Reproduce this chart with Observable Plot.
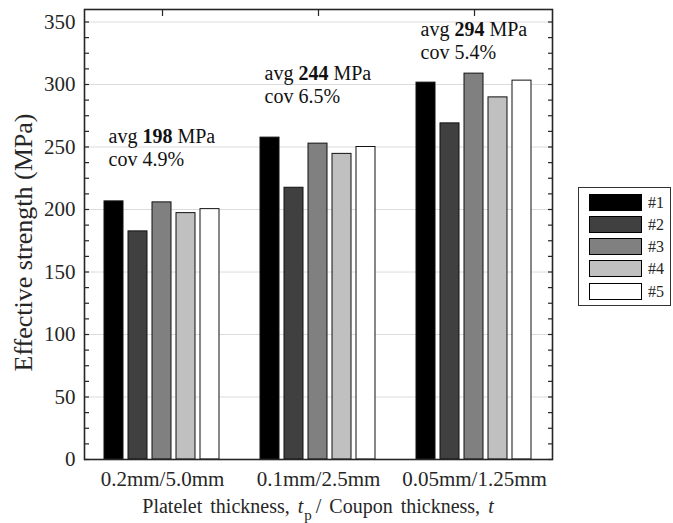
<!DOCTYPE html>
<html>
<head>
<meta charset="utf-8">
<script src="https://cdn.jsdelivr.net/npm/d3@7"></script>
<script src="https://cdn.jsdelivr.net/npm/@observablehq/plot@0.6"></script>
<style>
  body { margin: 0; background: #fff; }
  #wrap { position: relative; width: 673px; height: 523px; font-family: "Liberation Serif", "Times New Roman", serif; color: #262626; }
  #wrap svg { display: block; }
  .xtitle { position: absolute; left: 84px; width: 468px; top: 496px; text-align: center; font-size: 20px; line-height: 20px; word-spacing: 3px; white-space: nowrap; }
  .xtitle sub { font-size: 0.75em; vertical-align: -0.45em; line-height: 0; margin-left: 1px; margin-right: 4px; }
  .legend { position: absolute; left: 578px; top: 187px; width: 91px; height: 117px; border: 1px solid #333; background: #fff; box-sizing: content-box; }
  .legend .row { position: absolute; left: 10px; height: 17px; display: flex; align-items: center; }
  .legend .sw { width: 51px; height: 15px; border: 1px solid #000; }
  .legend .lab { margin-left: 6px; font-size: 16px; line-height: 17px; }
</style>
</head>
<body>
<div id="wrap"></div>
<script>
// Coupon configurations: platelet thickness / coupon thickness
const thicknessGroups = ["0.2mm/5.0mm", "0.1mm/2.5mm", "0.05mm/1.25mm"];
// Specimen labels within each configuration
const specimens = ["#1", "#2", "#3", "#4", "#5"];

// Effective strength (MPa) for each specimen, per configuration
const strength02mm = [206.5, 182.5, 205.7, 197.1, 200.3];
const strength01mm = [257.5, 217.4, 252.7, 244.5, 250.0];
const strength005mm = [301.5, 268.9, 308.7, 289.7, 303.1];

// Grey shades for the specimens
const specimenShades = ["#000000", "#404040", "#808080", "#c0c0c0", "#ffffff"];

// Strength level (MPa) at which each group's summary note sits
const noteLevels = [258, 309, 344];

// Axis ticks
const yMajorTicks = d3.range(0, 351, 50);
const yMinorTicks = d3.range(0, 351, 12.5);

const seriesByGroup = [strength02mm, strength01mm, strength005mm];

const rows = thicknessGroups.flatMap((group, gi) =>
  specimens.map((specimen, si) => ({group, specimen, strength: seriesByGroup[gi][si]}))
);

// Mean and coefficient of variation per configuration
const notes = thicknessGroups.map((group, gi) => {
  const values = seriesByGroup[gi];
  const avg = d3.mean(values);
  const cov = d3.deviation(values) / avg * 100;
  return {
    group,
    level: noteLevels[gi],
    avgText: `avg ${Math.round(avg)} MPa`,
    covText: `cov ${cov.toFixed(1)}%`
  };
});

const serif = "'Liberation Serif', 'Times New Roman', serif";
const ink = "#262626";

const chart = Plot.plot({
  width: 673,
  height: 523,
  marginTop: 9,
  marginRight: 121,
  marginBottom: 64,
  marginLeft: 84,
  style: {fontFamily: serif, fontSize: "20px", color: ink, background: "transparent", overflow: "visible"},
  fx: {domain: thicknessGroups, padding: 0, axis: null, label: null},
  x: {domain: specimens, paddingInner: 0.19, paddingOuter: 0.83, axis: null},
  y: {domain: [0, 360], axis: null},
  color: {domain: specimens, range: specimenShades},
  marks: [
    Plot.gridY(yMajorTicks, {stroke: "#dcdcdc", strokeOpacity: 1, strokeWidth: 1}),
    Plot.barY(rows, {fx: "group", x: "specimen", y: "strength", fill: "specimen", stroke: "#111", strokeWidth: 1}),
    Plot.text(notes, {fx: "group", y: "level", text: "avgText", frameAnchor: "middle", textAnchor: "start", dx: -54, fontSize: 20, fill: "#111"}),
    Plot.text(notes, {fx: "group", y: "level", text: "covText", frameAnchor: "middle", textAnchor: "start", dx: -54, dy: 23, fontSize: 20, fill: "#111"}),
    // inward ticks on both vertical sides
    Plot.axisY(yMinorTicks, {anchor: "left", tickSize: -5, tickFormat: () => "", label: null, stroke: ink, strokeWidth: 1.2}),
    Plot.axisY(yMinorTicks, {anchor: "right", tickSize: -5, tickFormat: () => "", label: null, stroke: ink, strokeWidth: 1.2}),
    // tick labels
    Plot.axisY(yMajorTicks, {anchor: "left", tickSize: 0, tickPadding: 9, fontSize: 21, label: null, fill: ink}),
    Plot.axisFx({anchor: "top", tickSize: -6, tickFormat: () => "", label: null, stroke: ink, strokeWidth: 1.2}),
    Plot.axisFx({anchor: "bottom", tickSize: 0, tickPadding: 12, fontSize: 21, label: null, fill: ink}),
    Plot.text(["Effective strength (MPa)"], {text: d => d, frameAnchor: "left", textAnchor: "middle", rotate: -90, dx: -61, dy: 8, fontSize: 26, fill: ink, facetAnchor: "left"}),
    Plot.frame({facet: "super", stroke: ink, strokeWidth: 1.6})
  ]
});

const wrap = document.getElementById("wrap");
wrap.appendChild(chart);

// Set the average value in bold
d3.select(chart).selectAll("text").each(function () {
  if (this.querySelector("tspan")) return;
  const m = this.textContent.match(/^(avg )(\d+)( MPa)$/);
  if (!m) return;
  const t = d3.select(this).text("");
  t.append("tspan").text(m[1]);
  t.append("tspan").attr("font-weight", "bold").text(m[2]);
  t.append("tspan").text(m[3]);
});

// x-axis title with italic symbols and subscript
const xt = document.createElement("div");
xt.className = "xtitle";
xt.innerHTML = "Platelet thickness, <i>t</i><sub>p</sub>/ Coupon thickness, <i>t</i>";
wrap.appendChild(xt);

// Legend of specimens
const color = chart.scale("color");
const legend = d3.select(wrap).append("div").attr("class", "legend");
specimens.forEach((s, i) => {
  const row = legend.append("div").attr("class", "row").style("top", `${5.5 + i * 22.3}px`);
  row.append("div").attr("class", "sw").style("background", color.apply(s));
  row.append("span").attr("class", "lab").text(s);
});
</script>
</body>
</html>
